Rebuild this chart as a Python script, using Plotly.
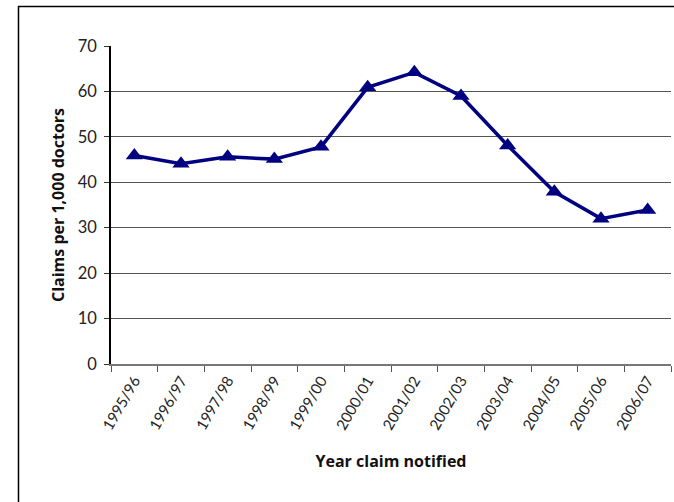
import plotly.graph_objects as go

# Claims notified per 1,000 doctors, by financial year
years = ["1995/96", "1996/97", "1997/98", "1998/99", "1999/00", "2000/01",
         "2001/02", "2002/03", "2003/04", "2004/05", "2005/06", "2006/07"]
claims_per_1000 = [45.9, 44.1, 45.6, 45.1, 47.8, 60.9,
                   64.2, 59.0, 48.1, 37.9, 32.0, 33.9]

y_ticks = [0, 10, 20, 30, 40, 50, 60, 70]

W, H = 674, 502
L, R, T, B = 111, 3, 46, 138
pw, ph = W - L - R, H - T - B

def px_x(px):
    return (px - L) / pw

def px_y(py):
    return (H - B - py) / ph

fig = go.Figure()
fig.add_trace(go.Scatter(
    x=years, y=claims_per_1000, mode="lines+markers",
    line=dict(color="#000080", width=3.5),
    marker=dict(symbol="triangle-up", size=15, color="#000080"),
    showlegend=False, cliponaxis=False,
))

fam = "Lato, 'Open Sans', sans-serif"
title_fam = "'Open Sans', Lato, sans-serif"
fig.update_layout(
    width=W, height=H,
    margin=dict(l=L, r=R, t=T, b=B),
    paper_bgcolor="white", plot_bgcolor="white",
    xaxis=dict(
        type="category", tickangle=-60,
        tickfont=dict(family=fam, size=15, color="#222"),
        ticks="outside", tickson="boundaries", ticklen=6, tickcolor="#555",
        showline=True, linecolor="#777", linewidth=2,
        showgrid=False, range=[-0.5, 11.5],
        title=dict(text="<b>Year claim notified</b>", standoff=24,
                   font=dict(family=title_fam, size=16, color="#111")),
    ),
    yaxis=dict(
        range=[0, 70], tickvals=y_ticks, ticktext=[str(v) for v in y_ticks],
        tickfont=dict(family=fam, size=16.5, color="#222"),
        ticks="outside", ticklen=5, tickcolor="#333", ticklabelstandoff=4,
        showline=True, linecolor="black", linewidth=1.5,
        showgrid=True, gridcolor="#555", gridwidth=1.2,
        zeroline=False,
        title=dict(text="<b>Claims per 1,000 doctors</b>", standoff=9,
                   font=dict(family=title_fam, size=16, color="#111")),
    ),
    shapes=[
        # chart frame: top and left edges (right/bottom fall outside the page)
        dict(type="line", xref="paper", yref="paper",
             x0=px_x(18), x1=px_x(720), y0=px_y(6.5), y1=px_y(6.5),
             line=dict(color="black", width=1.5)),
        dict(type="line", xref="paper", yref="paper",
             x0=px_x(18.5), x1=px_x(18.5), y0=px_y(6), y1=px_y(560),
             line=dict(color="black", width=1.5)),
    ],
)

fig.write_html("out.html")
